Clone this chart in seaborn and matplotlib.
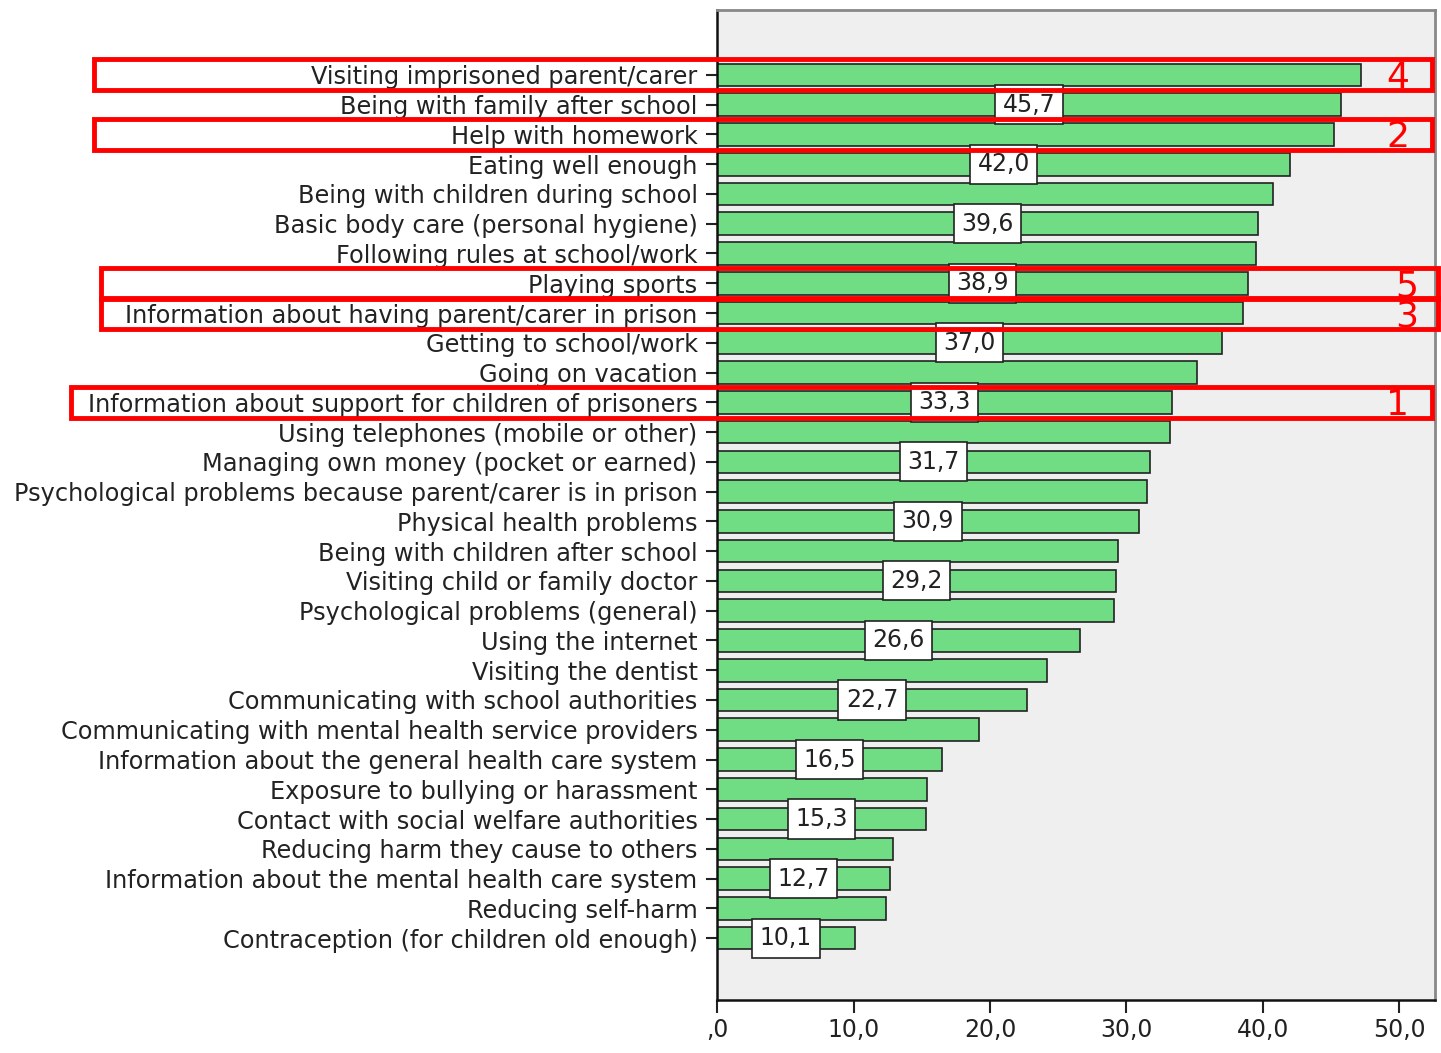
import matplotlib
matplotlib.use('Agg')
import matplotlib.pyplot as plt
import matplotlib.transforms as mtransforms
from matplotlib.patches import Rectangle
import seaborn as sns
import pandas as pd

# Categories, top to bottom as in the chart
items = [
    'Visiting imprisoned parent/carer',
    'Being with family after school',
    'Help with homework',
    'Eating well enough',
    'Being with children during school',
    'Basic body care (personal hygiene)',
    'Following rules at school/work',
    'Playing sports',
    'Information about having parent/carer in prison',
    'Getting to school/work',
    'Going on vacation',
    'Information about support for children of prisoners',
    'Using telephones (mobile or other)',
    'Managing own money (pocket or earned)',
    'Psychological problems because parent/carer is in prison',
    'Physical health problems',
    'Being with children after school',
    'Visiting child or family doctor',
    'Psychological problems (general)',
    'Using the internet',
    'Visiting the dentist',
    'Communicating with school authorities',
    'Communicating with mental health service providers',
    'Information about the general health care system',
    'Exposure to bullying or harassment',
    'Contact with social welfare authorities',
    'Reducing harm they cause to others',
    'Information about the mental health care system',
    'Reducing self-harm',
    'Contraception (for children old enough)',
]
percent = [47.2, 45.7, 45.2, 42.0, 40.7, 39.6, 39.5, 38.9, 38.5, 37.0,
           35.2, 33.3, 33.2, 31.7, 31.5, 30.9, 29.4, 29.2, 29.1, 26.6,
           24.2, 22.7, 19.2, 16.5, 15.4, 15.3, 12.9, 12.7, 12.4, 10.1]

# highlighted rows and their rank numbers
highlight_items = ['Visiting imprisoned parent/carer', 'Help with homework',
                   'Playing sports', 'Information about having parent/carer in prison',
                   'Information about support for children of prisoners']
highlight_rank = ['4', '2', '5', '3', '1']

x_ticks = [0, 10, 20, 30, 40, 50]
x_ticklabels = [',0', '10,0', '20,0', '30,0', '40,0', '50,0']

df = pd.DataFrame({'item': items, 'percent': percent})

sns.set_style('white')
plt.rcParams['font.family'] = ['DejaVu Sans']

fig = plt.figure(figsize=(14.41, 10.53), dpi=100)
ax = fig.add_axes([0.4976, 0.0503, 0.4982, 0.9402])
ax.set_facecolor('#efefef')

sns.barplot(data=df, x='percent', y='item', orient='h', ax=ax,
            color='#70dc84', saturation=1, edgecolor='#222222',
            linewidth=1.2, width=0.76)

ax.set_xlim(0, 52.6)
ax.set_ylim(31.08, -2.18)
ax.set_xlabel('')
ax.set_ylabel('')
ax.set_xticks(x_ticks)
ax.set_xticklabels(x_ticklabels)
ax.tick_params(axis='x', length=9, width=1.5, color='#222222', labelsize=17,
               labelcolor='#222222', pad=4, bottom=True)
ax.tick_params(axis='y', length=8, width=1.5, color='#222222', labelsize=17.3,
               labelcolor='#222222', pad=6, left=True)

for side in ['left', 'bottom']:
    ax.spines[side].set_color('#111111')
    ax.spines[side].set_linewidth(1.8)
for side in ['top', 'right']:
    ax.spines[side].set_visible(True)
    ax.spines[side].set_color('#888888')
    ax.spines[side].set_linewidth(2)

# value labels on every second bar
for i, v in enumerate(percent):
    if i % 2 == 1:
        ax.text(v / 2, i, f'{v:.1f}'.replace('.', ','), ha='center', va='center',
                fontsize=17, color='#222222',
                bbox=dict(boxstyle='square,pad=0.32', fc='white', ec='#222222', lw=1.2))

# red highlight boxes with rank numbers
trans = mtransforms.blended_transform_factory(fig.transFigure, ax.transData)
box_left = {'Visiting imprisoned parent/carer': 0.065, 'Help with homework': 0.065,
            'Playing sports': 0.070,
            'Information about having parent/carer in prison': 0.070,
            'Information about support for children of prisoners': 0.049}
box_right = {'Visiting imprisoned parent/carer': 0.9935, 'Help with homework': 0.9935,
             'Playing sports': 0.998,
             'Information about having parent/carer in prison': 0.998,
             'Information about support for children of prisoners': 0.9935}
rank_x = {'Visiting imprisoned parent/carer': 0.970, 'Help with homework': 0.970,
          'Playing sports': 0.976,
          'Information about having parent/carer in prison': 0.976,
          'Information about support for children of prisoners': 0.970}
for name, rank in zip(highlight_items, highlight_rank):
    i = items.index(name)
    x0 = box_left[name]
    x1 = box_right[name]
    fig.patches.append(Rectangle((x0, i - 0.52), x1 - x0, 1.04, transform=trans,
                                 fill=False, ec='#ff0000', lw=3.5, zorder=10))
    fig.text(rank_x[name], i + 0.1, rank, transform=trans, ha='center', va='center',
             fontsize=26, color='#ff0000', zorder=11)

fig.savefig('out.png', dpi=100, facecolor='white')
